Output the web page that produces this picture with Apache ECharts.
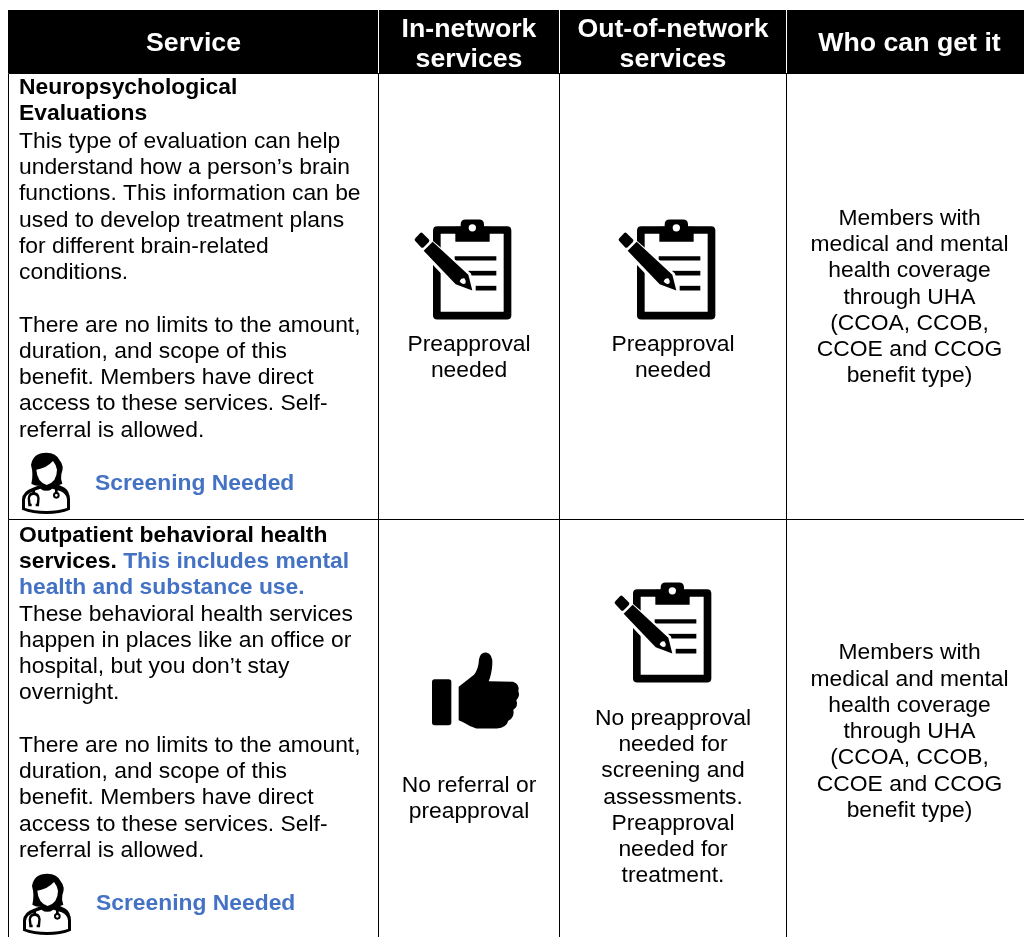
<!DOCTYPE html>
<html><head><meta charset="utf-8">
<style>html,body{margin:0;padding:0;background:#fff}#c{width:1024px;height:937px}</style>
<script src="https://cdn.jsdelivr.net/npm/echarts@6/dist/echarts.min.js"></script>
</head><body><div id="c"></div>
<script>
// ---------- content ----------
const columnHeaders = [["Service"], ["In-network", "services"], ["Out-of-network", "services"], ["Who can get it"]];
const serviceRow1 = [
  ["b","Neuropsychological"],["b","Evaluations"],
  ["n","This type of evaluation can help"],["n","understand how a person\u2019s brain"],
  ["n","functions. This information can be"],["n","used to develop treatment plans"],
  ["n","for different brain-related"],["n","conditions."],["n",""],
  ["n","There are no limits to the amount,"],["n","duration, and scope of this"],
  ["n","benefit. Members have direct"],["n","access to these services. Self-"],["n","referral is allowed."]
];
const serviceRow2 = [
  ["b","Outpatient behavioral health"],["m","services. ","This includes mental"],["h","health and substance use."],
  ["n","These behavioral health services"],["n","happen in places like an office or"],
  ["n","hospital, but you don\u2019t stay"],["n","overnight."],["n",""],
  ["n","There are no limits to the amount,"],["n","duration, and scope of this"],
  ["n","benefit. Members have direct"],["n","access to these services. Self-"],["n","referral is allowed."]
];
const screeningLabel = "Screening Needed";
const whoLines = ["Members with","medical and mental","health coverage","through UHA","(CCOA, CCOB,","CCOE and CCOG","benefit type)"];
const preapprovalLines = ["Preapproval","needed"];
const noReferralLines = ["No referral or","preapproval"];
const mixedLines = ["No preapproval","needed for","screening and","assessments.","Preapproval","needed for","treatment."];

// ---------- layout (page pixels, fed through the hidden axes) ----------
const colEdges = [8, 378, 559, 786, 1033];
const headerTop = 10, headerBottom = 73, rowDivider = 519, tableBottom = 945;
const FONT = '"Liberation Sans", Arial, sans-serif';
const FS = 22.85, LH = 26.25, HEADFS = 26.7, BLUE = '#4472C4', DY = 0.6;

// cells: [kind, col, row]
const cells = [
  ['head',0],['head',1],['head',2],['head',3],
  ['left',0,0],['left',0,1],
  ['center',1,0],['center',2,0],['center',3,0],['center',1,1],['center',2,1],['center',3,1]
];
const cellContent = {
  '1,0':{lines:preapprovalLines,y:344,icon:'clip',ix:415,iy:219.5},
  '2,0':{lines:preapprovalLines,y:344,icon:'clip',ix:619,iy:219.5},
  '3,0':{lines:whoLines,y:218},
  '1,1':{lines:noReferralLines,y:785,icon:'thumb',ix:432,iy:652.5},
  '2,1':{lines:mixedLines,y:718,icon:'clip',ix:615,iy:582.5},
  '3,1':{lines:whoLines,y:652.5}
};

// ---------- icons: vector shapes, in 3x-zoomed local units ----------
const clipParts = [
  // board
  ['M100 63Q100 50 113 50L322 50Q335 50 335 63L335 318Q335 330 322 330L113 330Q100 330 100 318Z','#000'],
  ['M123 73L312 73L312 307L123 307Z','#fff'],
  // clip
  ['M167 52L183 52L183 45Q183 30 198 30L238 30Q253 30 253 45L253 52L270 52L270 97L167 97Z','#000'],
  ['M207 55A11 11 0 1 0 229 55A11 11 0 1 0 207 55Z','#fff'],
  // lines
  ['M165 140L290 140L290 153L165 153Z','#000'],
  ['M205 184L290 184L290 198L205 198Z','#000'],
  ['M228 229L290 229L290 243L228 243Z','#000'],
  // pencil halo and pencil
  ['M40 90L65 62L95 90L214 192L229 256L163 233L62 126Z','#fff'],
  ['M47 86L61 71Q65 67 69 71L88 90Q91 94 87 98L72 113Q68 117 64 113L46 94Q43 90 47 86Z','#000'],
  ['M72 124L99 97L206 196L218 243L168 224Z','#000'],
  ['M180 216Q183 205 194 206Q200 212 197 222Q187 226 180 216Z','#fff']
];
const thumbParts = [
  ['M37 128Q37 120 45 120L87 120Q95 120 95 128L95 250Q95 258 87 258L45 258Q37 258 37 250Z','#000'],
  ['M117 143L163 107Q177 88 178 60Q182 38 200 40Q220 45 218 75Q216 105 207 126L280 128Q301 135 296 156Q302 170 290 183Q297 200 281 212Q286 235 266 245Q260 266 232 268L170 268Q150 262 132 250L117 243Z','#000']
];
const personParts = [
  // body
  ['M37 196L37 165Q39 140 70 130L100 118L140 118L165 130Q180 140 181 165L181 196Q150 209 110 209Q70 209 37 196Z','#000'],
  ['M46 191L46 166Q48 148 75 139L92 133Q110 146 128 133L153 141Q171 149 172 166L172 191Q145 200 110 200Q72 200 46 191Z','#fff'],
  // hair
  ['M65 118Q72 90 64 62Q70 25 110 25Q140 25 150 48Q165 65 155 90Q152 105 158 118Q140 128 125 122L95 122Q80 128 65 118Z','#000'],
  // face
  ['M80 76Q110 72 130 50Q140 62 142 76Q142 112 111 122Q82 112 80 76Z','#fff'],
  // stethoscope
  ['M66 186L56 186L54 162Q56 143 72 143Q88 143 90 162L88 186L78 186L78 178L81 178L83 162Q81 152 72 152Q63 152 61 162L63 178L66 178Z','#000'],
  ['M68 132L76 132L76 148L68 148Z','#000'],
  ['M130 153A10 10 0 1 0 150 153A10 10 0 1 0 130 153Z','#000'],
  ['M136 153A4 4 0 1 0 144 153A4 4 0 1 0 136 153Z','#fff'],
  ['M136 130L144 130L144 146L136 146Z','#000']
];
const icons = {
  clip:{parts:clipParts,w:345,h:340,refX:46,refY:30},
  thumb:{parts:thumbParts,w:310,h:280,refX:37,refY:40},
  person:{parts:personParts,w:190,h:215,refX:37,refY:26}
};

function iconEls(name, px, py, coord){
  const ic = icons[name];
  const k = 1/3;
  const p0 = coord([px - ic.refX*k, py - ic.refY*k]);
  return ic.parts.map(([d,color])=>({
    type:'path',
    shape:{pathData:`M0 0M${ic.w} ${ic.h}${d}`,x:p0[0],y:p0[1],width:ic.w*k,height:ic.h*k,layout:'cover'},
    style:{fill:color}
  }));
}

const textBase = {fontFamily:FONT,fontSize:FS,fill:'#000',verticalAlign:'middle'};
function txt(text,x,y,align,extra){
  return {type:'text',x,y:y+DY,style:Object.assign({},textBase,{text,align},extra||{})};
}

function leftLineY(row,i){
  if(row===1) return 534.9+i*LH;
  return i<2 ? 87+i*26 : 141+(i-2)*LH;
}

function renderItem(params, api){
  const c = cells[params.dataIndex];
  const kind = c[0], col = c[1], row = c[2];
  const coord = api.coord.bind(api);
  const x0 = coord([colEdges[col],0])[0], x1 = coord([colEdges[col+1],0])[0];
  const cx = col===3 ? 909.5 : (x0+x1)/2 + 0.5;
  const children = [];
  if(kind==='head'){
    const t = coord([0,headerTop])[1], b = coord([0,headerBottom])[1];
    children.push({type:'rect',shape:{x:x0,y:t,width:x1-x0,height:b-t},style:{fill:'#000'}});
    if(col>0) children.push({type:'rect',shape:{x:x0,y:t,width:1,height:b-t},style:{fill:'#fff'}});
    const ls = columnHeaders[col];
    const ys = ls.length===1 ? [43] : [29,59];
    ls.forEach((s,i)=>children.push(txt(s,cx,ys[i],'center',{fill:'#fff',fontSize:HEADFS,fontWeight:'bold'})));
  } else {
    const t = coord([0,row===0?headerBottom:rowDivider])[1], b = coord([0,row===0?rowDivider:tableBottom])[1];
    children.push({type:'rect',shape:{x:x0+0.5,y:t+0.5,width:x1-x0,height:b-t},style:{fill:'#fff',stroke:'#000',lineWidth:1}});
    if(kind==='left'){
      const src = row===0?serviceRow1:serviceRow2;
      src.forEach((ln,i)=>{
        const y = leftLineY(row,i);
        if(ln[0]==='b') children.push(txt(ln[1],19,y,'left',{fontWeight:'bold'}));
        else if(ln[0]==='h') children.push(txt(ln[1],19,y,'left',{fontWeight:'bold',fill:BLUE}));
        else if(ln[0]==='m') children.push({type:'text',x:19,y:y+DY,style:Object.assign({},textBase,{
          text:`{a|${ln[1]}}{c|${ln[2]}}`,align:'left',
          rich:{a:{fontFamily:FONT,fontSize:FS,fontWeight:'bold',fill:'#000'},c:{fontFamily:FONT,fontSize:FS,fontWeight:'bold',fill:BLUE}}
        })});
        else if(ln[1]) children.push(txt(ln[1],19,y,'left'));
      });
      children.push(...iconEls('person',row===0?22:23,row===0?453:874,coord));
      children.push(txt(screeningLabel,row===0?95:96,row===0?483:903,'left',{fontWeight:'bold',fill:BLUE}));
    } else {
      const cc = cellContent[col+','+row];
      if(cc.icon) children.push(...iconEls(cc.icon,cc.ix,cc.iy,coord));
      cc.lines.forEach((s,i)=>children.push(txt(s,cx,cc.y+i*LH,'center')));
    }
  }
  return {type:'group',children};
}

const chart = echarts.init(document.getElementById('c'),null,{renderer:'canvas'});
chart.setOption({
  animation:false,
  backgroundColor:'#fff',
  grid:{left:0,right:0,top:0,bottom:0},
  xAxis:{type:'value',min:0,max:1024,show:false},
  yAxis:{type:'value',min:0,max:937,inverse:true,show:false},
  series:[{type:'custom',coordinateSystem:'cartesian2d',renderItem,clip:false,silent:true,
    encode:{x:0,y:1},
    data:cells.map((c,i)=>[colEdges[c[1]],c[0]==='head'?headerTop:(c[2]===0?headerBottom:rowDivider),i])}]
});
</script></body></html>
